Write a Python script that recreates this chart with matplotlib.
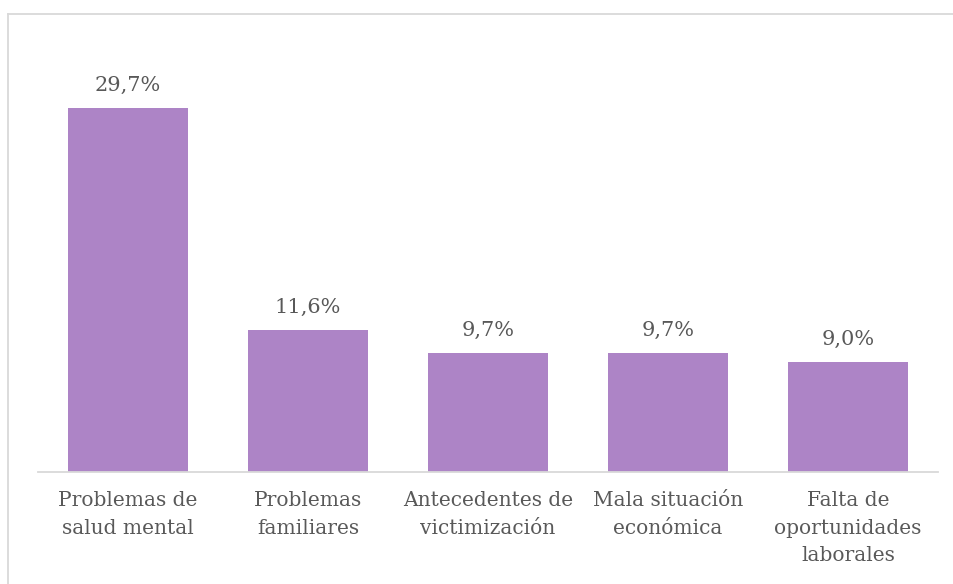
import matplotlib
matplotlib.use("Agg")
import matplotlib.pyplot as plt
from matplotlib.lines import Line2D

categories = ["Problemas de\nsalud mental", "Problemas\nfamiliares", "Antecedentes de\nvictimización",
              "Mala situación\neconómica", "Falta de\noportunidades\nlaborales"]
values = [29.7, 11.6, 9.7, 9.7, 9.0]
value_labels = ["29,7%", "11,6%", "9,7%", "9,7%", "9,0%"]

W, H = 954, 584
fig = plt.figure(figsize=(W/100, H/100), dpi=100)
plt.rcParams['font.family'] = ['DejaVu Serif']
txt = "#595959"

ax = fig.add_axes([38/W, 1 - 472/H, 900/W, (472-43)/H])
x = list(range(len(values)))
ax.bar(x, values, width=0.667, color="#AD84C6")
ax.set_xlim(-0.5, len(values) - 0.5)
ax.set_ylim(0, 35)
for xi, v, lab in zip(x, values, value_labels):
    ax.annotate(lab, (xi, v), xytext=(0, 9.5), textcoords="offset points",
                ha="center", va="bottom", fontsize=15, color=txt)
ax.set_xticks(x)
ax.set_xticklabels(categories, fontsize=14.5, color=txt, linespacing=1.55)
ax.tick_params(axis="x", length=0, pad=14)
ax.set_yticks([])
for s in ["top", "right", "left"]:
    ax.spines[s].set_visible(False)
ax.spines["bottom"].set_color("#D9D9D9")
ax.spines["bottom"].set_linewidth(1.3)

# outer frame (left and top edges visible)
fig.add_artist(Line2D([8.5/W, 8.5/W], [0, 1 - 13.5/H], transform=fig.transFigure, color="#D9D9D9", lw=1.3))
fig.add_artist(Line2D([8.5/W, 1], [1 - 13.5/H, 1 - 13.5/H], transform=fig.transFigure, color="#D9D9D9", lw=1.3))

fig.savefig("out.png", dpi=100)
